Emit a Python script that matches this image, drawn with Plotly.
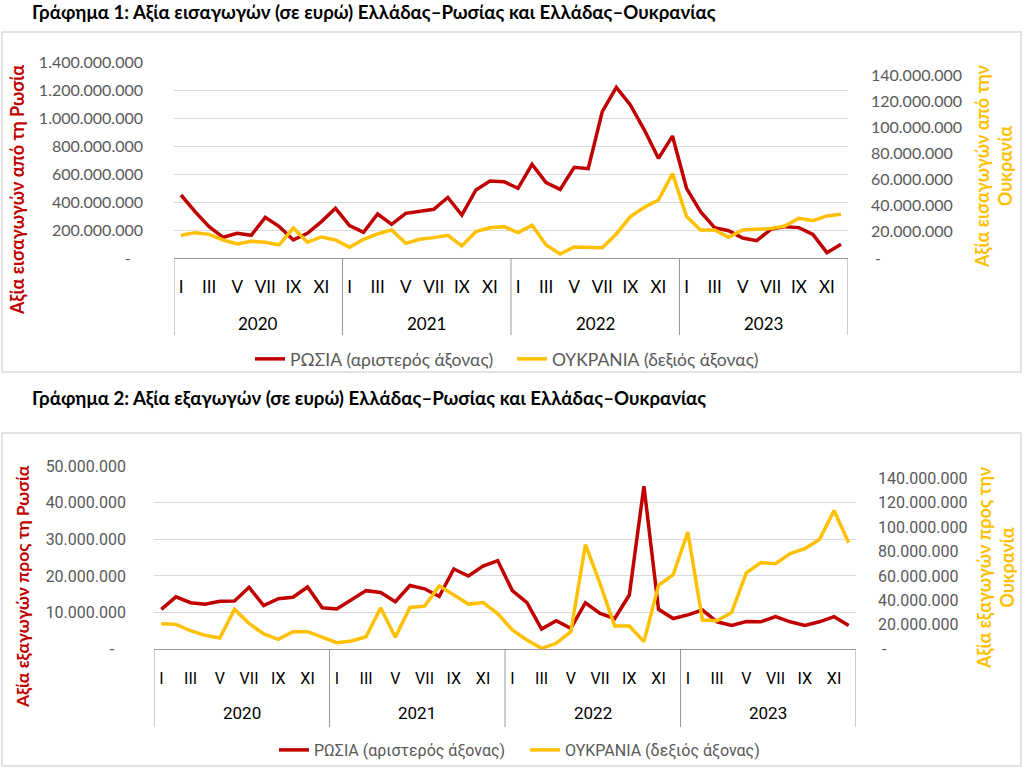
import plotly.graph_objects as go

# ---------------- data ----------------
years = ["2020", "2021", "2022", "2023"]
months = ["I", "II", "III", "IV", "V", "VI", "VII", "VIII", "IX", "X", "XI", "XII"]

# Chart 1: imports (EUR)
imp_russia = [
    450e6, 331e6, 224e6, 148e6, 176e6, 162e6, 290e6, 224e6, 129e6, 176e6, 260e6, 355e6,
    231e6, 183e6, 314e6, 240e6, 319e6, 333e6, 348e6, 433e6, 307e6, 486e6, 550e6, 545e6,
    498e6, 669e6, 538e6, 490e6, 648e6, 638e6, 1045e6, 1219e6, 1093e6, 914e6, 712e6, 871e6,
    498e6, 331e6, 217e6, 195e6, 143e6, 124e6, 205e6, 224e6, 217e6, 169e6, 38e6, 98e6,
]
imp_ukraine = [
    17.4e6, 19.4e6, 18.1e6, 13.8e6, 10.7e6, 12.8e6, 12.0e6, 10.0e6, 23.0e6, 12.0e6, 16.1e6, 13.8e6,
    8.2e6, 14.3e6, 18.4e6, 21.5e6, 11.2e6, 14.3e6, 15.6e6, 17.4e6, 9.2e6, 20.2e6, 23.2e6, 24.0e6,
    19.4e6, 25.0e6, 10.0e6, 3.1e6, 8.4e6, 8.2e6, 7.9e6, 18.4e6, 31.7e6, 38.8e6, 44.4e6, 64.6e6,
    31.7e6, 21.5e6, 21.5e6, 15.8e6, 21.5e6, 22.0e6, 22.5e6, 24.5e6, 30.4e6, 28.6e6, 32.2e6, 33.5e6,
]

# Chart 2: exports (EUR)
exp_russia = [
    10.9e6, 14.3e6, 12.7e6, 12.3e6, 13.1e6, 13.2e6, 16.9e6, 11.9e6, 13.8e6, 14.2e6, 17.0e6, 11.3e6,
    11.0e6, 13.6e6, 16.0e6, 15.5e6, 13.0e6, 17.4e6, 16.5e6, 14.4e6, 21.9e6, 20.0e6, 22.7e6, 24.2e6,
    16.0e6, 12.7e6, 5.5e6, 7.8e6, 5.7e6, 12.7e6, 9.8e6, 8.4e6, 14.8e6, 44.5e6, 10.9e6, 8.4e6,
    9.4e6, 10.7e6, 7.5e6, 6.5e6, 7.6e6, 7.5e6, 8.9e6, 7.5e6, 6.5e6, 7.5e6, 8.9e6, 6.5e6,
]
exp_ukraine = [
    20.9e6, 20.4e6, 15.2e6, 11.4e6, 9.2e6, 32.6e6, 21.2e6, 12.5e6, 8.2e6, 14.4e6, 14.4e6, 9.8e6,
    5.4e6, 6.8e6, 10.3e6, 34.0e6, 9.8e6, 34.2e6, 35.3e6, 51.9e6, 44.8e6, 37.0e6, 38.3e6, 29.3e6,
    15.8e6, 7.6e6, 0.8e6, 4.9e6, 14.4e6, 85.6e6, 53.8e6, 19.0e6, 19.0e6, 6.3e6, 52.4e6, 61.1e6,
    95.9e6, 23.9e6, 23.4e6, 30.2e6, 62.5e6, 70.9e6, 70.1e6, 78.3e6, 82.3e6, 89.9e6, 113.6e6, 87.2e6,
]

imp_left_ticks = [0, 200e6, 400e6, 600e6, 800e6, 1000e6, 1200e6, 1400e6]
exp_left_ticks = [0, 10e6, 20e6, 30e6, 40e6, 50e6]
right_ticks = [0, 20e6, 40e6, 60e6, 80e6, 100e6, 120e6, 140e6]

titles = [
    "Γράφημα 1: Αξία εισαγωγών (σε ευρώ) Ελλάδας–Ρωσίας και Ελλάδας–Ουκρανίας",
    "Γράφημα 2: Αξία εξαγωγών (σε ευρώ) Ελλάδας–Ρωσίας και Ελλάδας–Ουκρανίας",
]
left_titles = ["Αξία εισαγωγών από τη Ρωσία", "Αξία εξαγωγών προς τη Ρωσία"]
right_titles = ["Αξία εισαγωγών από την<br>Ουκρανία", "Αξία εξαγωγών προς την<br>Ουκρανία"]
series_names = ["ΡΩΣΙΑ (αριστερός άξονας)", "ΟΥΚΡΑΝΙΑ (δεξιός άξονας)"]

# ---------------- helpers ----------------
W, H = 1025, 768
RED = "#C00000"
GOLD = "#FFC000"
GRID = "#D9D9D9"
AXL = "#999999"
TXT = "#595959"
F1 = "Lato, 'Open Sans', sans-serif"
F2 = "Roboto, 'Liberation Sans', sans-serif"


def px(x):
    return x / W


def py(y):
    return 1 - y / H


def fmt(v, left=True):
    if v == 0:
        return "-\u00a0\u00a0\u00a0" if left else "\u00a0-"
    return f"{int(v):,}".replace(",", ".")


n = len(imp_russia)
idx = list(range(n))
month_labels = [months[i % 12] for i in idx]
odd_vals = [i for i in idx if i % 2 == 0]
odd_text = [month_labels[i] for i in odd_vals]

fig = go.Figure()
fig.add_trace(go.Scatter(x=idx, y=imp_russia, mode="lines", name=series_names[0],
                         line=dict(color=RED, width=3.5), xaxis="x", yaxis="y", legend="legend"))
fig.add_trace(go.Scatter(x=idx, y=imp_ukraine, mode="lines", name=series_names[1],
                         line=dict(color=GOLD, width=3.5), xaxis="x", yaxis="y2", legend="legend"))
fig.add_trace(go.Scatter(x=idx, y=exp_russia, mode="lines", name=series_names[0],
                         line=dict(color=RED, width=3.5), xaxis="x2", yaxis="y3", legend="legend2"))
fig.add_trace(go.Scatter(x=idx, y=exp_ukraine, mode="lines", name=series_names[1],
                         line=dict(color=GOLD, width=3.5), xaxis="x2", yaxis="y4", legend="legend2"))

# geometry (pixels) for the two panels
P1 = dict(x0=174, x1=848, top=62, bot=258, mon=284, yr=323, sepbot=335,
          frame=(2, 32, 1021, 372), leg=359, font=F1, ltick_so=30, rtick_so=22,
          lt=17, rt=994, lty=190, rty=167, title_y=12, lsize=18, rsize=18)
P2 = dict(x0=154, x1=856, top=466, bot=649.3, mon=675, yr=713, sepbot=727,
          frame=(2, 433, 1021, 766), leg=750, font=F2, ltick_so=27, rtick_so=21,
          lt=22, rt=995, lty=587, rty=568, title_y=398, lsize=17.5, rsize=18)

common_x = dict(range=[-0.5, n - 0.5], tickmode="array", tickvals=odd_vals, ticktext=odd_text,
                showgrid=False, zeroline=False, showline=True, linecolor=AXL, linewidth=1,
                ticks="", fixedrange=True, automargin=False)

fig.update_layout(
    width=W, height=H, margin=dict(l=0, r=0, t=0, b=0, pad=0, autoexpand=False),
    paper_bgcolor="white", plot_bgcolor="white",
    xaxis=dict(common_x, domain=[px(P1["x0"]), px(P1["x1"])], anchor="y",
               tickfont=dict(family=F1, size=17, color="black"), ticklabelstandoff=14),
    yaxis=dict(domain=[py(P1["bot"]), py(P1["top"])], range=[0, 1.4e9],
               tickmode="array", tickvals=imp_left_ticks,
               ticktext=[fmt(v) for v in imp_left_ticks],
               showgrid=True, gridcolor=GRID, gridwidth=1, zeroline=False, showline=False,
               ticks="", ticklabelstandoff=P1["ltick_so"], automargin=False,
               tickfont=dict(family=F1, size=16, color=TXT)),
    yaxis2=dict(overlaying="y", side="right", anchor="x", range=[0, 1.5e8],
                tickmode="array", tickvals=right_ticks,
                ticktext=[fmt(v, False) for v in right_ticks],
                showgrid=False, zeroline=False, showline=False, ticks="",
                ticklabelstandoff=P1["rtick_so"], automargin=False,
                tickfont=dict(family=F1, size=16, color=TXT)),
    xaxis2=dict(common_x, domain=[px(P2["x0"]), px(P2["x1"])], anchor="y3",
                tickfont=dict(family=F2, size=16, color="black"), ticklabelstandoff=14),
    yaxis3=dict(domain=[py(P2["bot"]), py(P2["top"])], range=[0, 5e7],
                tickmode="array", tickvals=exp_left_ticks,
                ticktext=[fmt(v) for v in exp_left_ticks],
                showgrid=True, gridcolor=GRID, gridwidth=1, zeroline=False, showline=False,
                ticks="", ticklabelstandoff=P2["ltick_so"], automargin=False,
                tickfont=dict(family=F2, size=16, color=TXT), anchor="x2"),
    yaxis4=dict(overlaying="y3", side="right", anchor="x2", range=[0, 1.5e8],
                tickmode="array", tickvals=right_ticks,
                ticktext=[fmt(v, False) for v in right_ticks],
                showgrid=False, zeroline=False, showline=False, ticks="",
                ticklabelstandoff=P2["rtick_so"], automargin=False,
                tickfont=dict(family=F2, size=16, color=TXT)),
    legend=dict(orientation="h", x=px(250), y=py(P1["leg"]), xanchor="left", yanchor="middle",
                font=dict(family=F1, size=17.5, color=TXT), bgcolor="rgba(0,0,0,0)",
                entrywidth=217, entrywidthmode="pixels"),
    legend2=dict(orientation="h", x=px(274), y=py(P2["leg"]), xanchor="left", yanchor="middle",
                 font=dict(family=F2, size=16, color=TXT), bgcolor="rgba(0,0,0,0)",
                 entrywidth=206, entrywidthmode="pixels"),
    showlegend=True,
)

shapes = []
annotations = []
for P, xa, title, lt, rt in [(P1, "x", titles[0], left_titles[0], right_titles[0]),
                              (P2, "x2", titles[1], left_titles[1], right_titles[1])]:
    fx0, fy0, fx1, fy1 = P["frame"]
    shapes.append(dict(type="rect", xref="paper", yref="paper",
                       x0=px(fx0), x1=px(fx1), y0=py(fy1), y1=py(fy0),
                       line=dict(color=GRID, width=1.5), layer="below"))
    # year separators of the two-level category axis
    for k in range(len(years) + 1):
        shapes.append(dict(type="line", xref=xa, yref="paper",
                           x0=-0.5 + 12 * k, x1=-0.5 + 12 * k,
                           y0=py(P["bot"]), y1=py(P["sepbot"]),
                           line=dict(color=AXL, width=1)))
    for k, yr in enumerate(years):
        annotations.append(dict(text=yr, xref=xa, yref="paper", x=5.5 + 12 * k, y=py(P["yr"]),
                                xanchor="center", yanchor="middle", showarrow=False,
                                font=dict(family=P["font"], size=17, color="black")))
    annotations.append(dict(text="<b>" + title + "</b>", xref="paper", yref="paper",
                            x=px(30), y=py(P["title_y"]), xanchor="left", yanchor="middle",
                            showarrow=False, font=dict(family=F1, size=18.7, color="black")))
    annotations.append(dict(text="<b>" + lt + "</b>", xref="paper", yref="paper",
                            x=px(P["lt"]), y=py(P["lty"]), xanchor="center", yanchor="middle",
                            textangle=-90, showarrow=False,
                            font=dict(family=F1, size=P["lsize"], color=RED)))
    annotations.append(dict(text="<b>" + rt + "</b>", xref="paper", yref="paper",
                            x=px(P["rt"]), y=py(P["rty"]), xanchor="center", yanchor="middle",
                            textangle=-90, showarrow=False,
                            font=dict(family=F1, size=P["rsize"], color=GOLD)))

fig.update_layout(shapes=shapes, annotations=annotations)

fig.write_html("out.html", config={"displayModeBar": False},
               post_script="document.body.style.margin='0';")
